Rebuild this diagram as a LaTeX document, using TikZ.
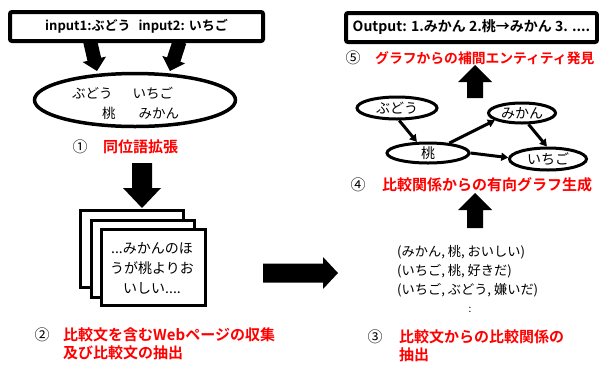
\documentclass[tikz,border=0pt]{standalone}
\usepackage{fontspec}
\setmainfont{Noto Sans CJK JP}[BoldFont={Noto Sans CJK JP Bold}]
\usetikzlibrary{shapes.geometric,arrows.meta}
% #1 tip x, #2 tip y, #3 angle, #4 length, #5 shaft half width, #6 head half width, #7 head length
\newcommand\myblockarrow[7]{%
  \begin{scope}[shift={(#1,#2)},rotate=#3]
    \fill[black] (0,0) -- (-#7,#6) -- (-#7,#5) -- (-#4,#5) -- (-#4,-#5) -- (-#7,-#5) -- (-#7,-#6) -- cycle;
  \end{scope}}
\tikzset{
  thickbox/.style={draw, line width=4pt, rounded corners=2pt, fill=white, inner sep=0pt,
    font=\bfseries\fontsize{13}{15}\selectfont},
  redlabel/.style={text=red, font=\bfseries\fontsize{15}{18}\selectfont, anchor=west, align=left, inner sep=0pt},
  numlabel/.style={font=\fontsize{15}{17}\selectfont, inner sep=0pt},
  gnode/.style={draw, ellipse, line width=3pt, inner sep=0pt, font=\fontsize{14}{16}\selectfont},
  gedge/.style={line width=3pt, -{Triangle[length=7pt,width=8pt]}},
  pagebox/.style={draw, line width=3pt, fill=white},
  plaintext/.style={inner sep=0pt, font=\fontsize{13}{15}\selectfont}
}
\begin{document}
\begin{tikzpicture}[x=1pt,y=-1pt]
\useasboundingbox (0,0) rectangle (599,365);

% input box
\node[thickbox, minimum width=253pt, minimum height=29pt] (inbox) at (136.5,26.5)
  {input1:ぶどう\hspace{8pt}input2: いちご};

% slanted arrows
\myblockarrow{97}{71}{-77}{31}{7}{12}{12}
\myblockarrow{170}{71}{-108}{31}{7}{12}{12}

% synonym ellipse
\node[draw, ellipse, line width=3.5pt, minimum width=201pt, minimum height=53pt] (syn) at (135,100) {};
\node[plaintext, anchor=west, align=left, font=\fontsize{13.5}{20}\selectfont] (syntext) at (72,103)
  {ぶどう\hspace{20pt}いちご\\\hspace{30pt}桃\hspace{23pt}みかん};

% label 1
\node[numlabel] (n1) at (80,147) {①};
\node[redlabel] (l1) at (103,147) {同位語拡張};

% big down arrow
\myblockarrow{142}{208}{-90}{45}{10}{19}{20}

% pages
\draw[pagebox] (80,210) rectangle (183,287);
\draw[pagebox] (91,220) rectangle (194,297);
\node[pagebox, minimum width=104pt, minimum height=76pt] (page) at (153,267) {};
\node[plaintext, align=center, font=\fontsize{14}{20}\selectfont] (pagetext) at (152,268)
  {...みかんのほ\\うが桃よりお\\いしい....};

% label 2
\node[numlabel] (n2) at (42,335) {②};
\node[redlabel] (l2) at (63,344) {比較文を含むWebページの収集\\及び比較文の抽出};

% right arrow
\myblockarrow{338}{273}{0}{75}{9.5}{16}{15}

% relations
\node[plaintext, anchor=west, align=left, font=\fontsize{13.2}{19}\selectfont] (rel) at (397,271)
  {(みかん, 桃, おいしい)\\(いちご, 桃, 好きだ)\\(いちご, ぶどう, 嫌いだ)};
\node[plaintext, font=\fontsize{10}{12}\selectfont] (dots) at (470,310) {:};

% label 3
\node[numlabel] (n3) at (375,337) {③};
\node[redlabel] (l3) at (399,346) {比較文からの比較関係の\\抽出};

% up arrow lower
\myblockarrow{475}{193}{90}{35}{8}{17}{17}

% label 4
\node[numlabel] (n4) at (358,185) {④};
\node[redlabel] (l4) at (382,185) {比較関係からの有向グラフ生成};

% graph
\node[gnode, minimum width=80pt, minimum height=22pt] (budo) at (397,108) {ぶどう};
\node[gnode, minimum width=67pt, minimum height=20pt] (mikan) at (522,113) {みかん};
\node[gnode, minimum width=82pt, minimum height=20pt] (momo) at (428,153) {桃};
\node[gnode, minimum width=77pt, minimum height=22pt] (ichigo) at (548,159) {いちご};
\draw[gedge] (budo.-80) -- (momo.135);
\draw[gedge] (momo.25) -- (mikan.195);
\draw[gedge] (mikan.-60) -- (ichigo.95);
\draw[gedge] (momo.east) -- (ichigo.178);

% up arrow upper
\myblockarrow{475}{65}{90}{33}{8}{17}{17}

% label 5
\node[numlabel] (n5) at (353,58) {⑤};
\node[redlabel, font=\bfseries\fontsize{13.8}{16}\selectfont] (l5) at (375,58) {グラフからの補間エンティティ発見};

% output box
\node[thickbox, minimum width=251pt, minimum height=29pt] (outbox) at (471.5,27.5)
  {\fontsize{14}{16}\selectfont Output: 1.みかん 2.桃→みかん 3. ....};
\end{tikzpicture}
\end{document}
